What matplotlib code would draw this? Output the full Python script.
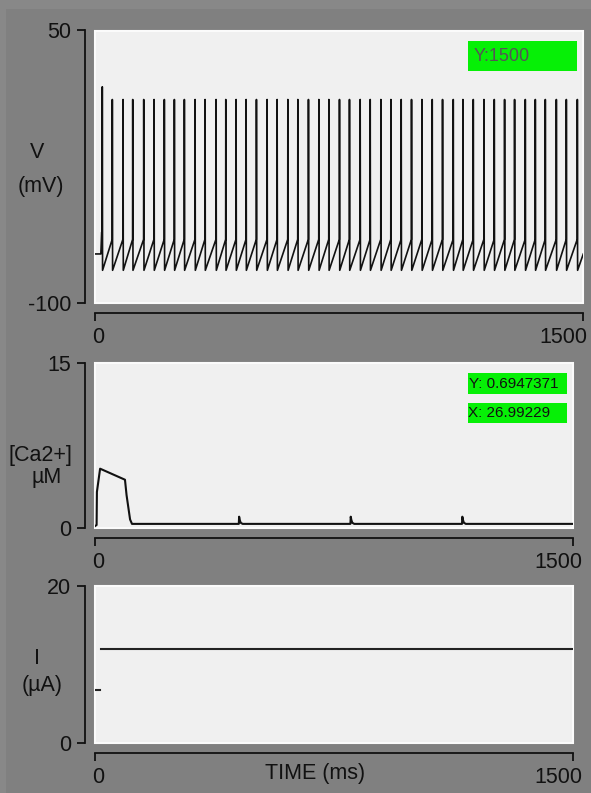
import numpy as np
import matplotlib
matplotlib.use('Agg')
import matplotlib.pyplot as plt
from matplotlib.patches import Rectangle
from matplotlib.transforms import ScaledTranslation

# ---- datos ----
# tiempos de los picos del potencial (ms)
spike_times = [22.4, 53.2, 86.1, 115.9, 149.7, 181.4, 213.0, 243.8, 274.5, 307.4,
               338.1, 371.9, 401.8, 433.4, 464.2, 495.9, 528.7, 559.5, 592.4, 623.1,
               655.7, 687.7, 718.4, 751.0, 781.7, 814.6, 845.4, 878.2, 909.0, 940.6,
               972.3, 1004.3, 1035.9, 1067.6, 1100.5, 1130.3, 1162.0, 1194.9, 1226.5,
               1258.2, 1288.9, 1321.8, 1352.6, 1383.3, 1417.2, 1447.9, 1481.7]
v_start = -73.0      # reposo inicial (mV)
v_first_peak = 19.0  # primer pico (mV)
v_peak = 12.0        # picos siguientes (mV)
v_trough = -82.0     # minimo tras cada pico (mV)
v_thresh = -65.0     # umbral antes de cada pico (mV)
v_end = -73.0        # valor en t = 1500

# calcio
ca_t = [0, 5, 6, 16, 94, 99, 110, 116,
        451, 452, 454, 457, 463,
        801, 802, 804, 807, 813,
        1151, 1152, 1154, 1157, 1163, 1498]
ca_v = [0.2, 0.3, 3.3, 5.4, 4.4, 3.0, 0.8, 0.4,
        0.4, 1.05, 0.75, 0.5, 0.4,
        0.4, 1.05, 0.75, 0.5, 0.4,
        0.4, 1.05, 0.75, 0.5, 0.4, 0.4]

# corriente
i_t = [3, 17, np.nan, 19, 1497]
i_v = [6.8, 6.8, np.nan, 11.9, 11.9]

v_ticks = [-100, 50]
ca_ticks = [0, 15]
i_ticks = [0, 20]
time_ticks = [0, 1500]

# ---- construir la traza de voltaje ----
vt = [0, 18, 20.5, 21.9, spike_times[0], spike_times[0] + 0.8]
vv = [v_start, v_start, -61, -61, v_first_peak, v_trough]
for ts in spike_times[1:]:
    vt += [ts - 0.4, ts, ts + 0.8]
    vv += [v_thresh, v_peak, v_trough]
vt.append(1500)
vv.append(v_end)

W, H = 591, 793
FS = 15.5
plt.rcParams['font.family'] = ['Liberation Sans', 'DejaVu Sans']
plt.rcParams['axes.unicode_minus'] = False
fig = plt.figure(figsize=(W / 100, H / 100), dpi=100)
fig.patch.set_facecolor('#888888')
fig.add_artist(Rectangle((6 / W, 0), 1, 1 - 9 / H, transform=fig.transFigure,
                         facecolor='#808080', edgecolor='none', zorder=-1))


def fx(x):
    return x / W


def fy(y):
    return 1 - y / H


def make_axes(x0, x1, y0, y1, right_shift):
    ax = fig.add_axes([fx(x0), fy(y1), fx(x1) - fx(x0), fy(y0) - fy(y1)])
    ax.set_facecolor('#f0f0f0')
    for s in ['top', 'right']:
        ax.spines[s].set_visible(False)
    for s in ['left', 'bottom']:
        ax.spines[s].set_position(('outward', 7))
        ax.spines[s].set_linewidth(1.3)
        ax.spines[s].set_color('#111111')
    ax.tick_params(direction='out', length=6, width=1.3, color='#111111',
                   labelsize=FS, labelcolor='#111111', pad=4)
    ax.add_patch(Rectangle((0, 0), 1, 1, transform=ax.transAxes, fill=False,
                           edgecolor='#fbfbfb', lw=1.5, clip_on=False))
    ax.set_xlim(0, 1500)
    ax.set_xticks(time_ticks)
    labels = ax.get_xticklabels()
    labels[0].set_transform(labels[0].get_transform() +
                            ScaledTranslation(3 / 100, 0, fig.dpi_scale_trans))
    labels[-1].set_ha('right')
    labels[-1].set_transform(labels[-1].get_transform() +
                             ScaledTranslation(right_shift / 100, 0, fig.dpi_scale_trans))
    return ax


ax1 = make_axes(95, 583.3, 30.5, 303, 4)
ax1.plot(vt, vv, color='#111111', lw=1.2)
ax1.set_ylim(-100, 50)
ax1.set_yticks(v_ticks)

ax2 = make_axes(95, 573.3, 362.7, 528.3, 9)
ax2.plot(ca_t, ca_v, color='#111111', lw=1.5)
ax2.set_ylim(0, 15)
ax2.set_yticks(ca_ticks)

ax3 = make_axes(95, 573.3, 585.5, 743.4, 9)
ax3.plot(i_t, i_v, color='#222222', lw=1.5)
ax3.set_ylim(0, 20)
ax3.set_yticks(i_ticks)

# etiquetas de los ejes
lab = dict(fontsize=FS, color='#111111', ha='center', va='center')
fig.text(fx(37), fy(152), 'V', **lab)
fig.text(fx(41), fy(186.5), '(mV)', **lab)
fig.text(fx(40), fy(455), '[Ca2+]', **lab)
fig.text(fx(47), fy(478), 'µM', **lab)
fig.text(fx(37), fy(658), 'I', **lab)
fig.text(fx(42), fy(685), '(µA)', **lab)
fig.text(fx(315), fy(774), 'TIME (ms)', **lab)

# cajas verdes
def green_box(x0, y0, x1, y1, txt, tx, color, size):
    fig.add_artist(Rectangle((fx(x0), fy(y1)), fx(x1) - fx(x0), fy(y0) - fy(y1),
                             transform=fig.transFigure, facecolor='#06f006',
                             edgecolor='none'))
    fig.text(fx(tx), fy((y0 + y1) / 2), txt, color=color,
             fontsize=size, ha='left', va='center')


green_box(468.3, 41, 577.3, 71.3, 'Y:1500', 473.3, '#555555', 13)
green_box(468.3, 373.3, 567.3, 393.7, 'Y: 0.6947371', 469, '#111111', 11)
green_box(468.3, 403, 567.3, 423.3, 'X: 26.99229', 468.5, '#111111', 11)

fig.savefig('out.png', dpi=100, facecolor=fig.get_facecolor())
